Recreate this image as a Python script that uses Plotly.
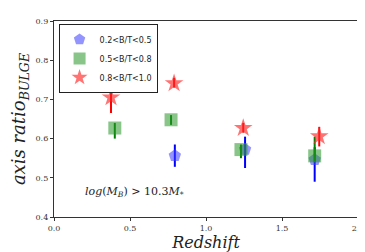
import plotly.graph_objects as go

# Data
blue_x = [0.795, 1.257, 1.715]
blue_y = [0.556, 0.572, 0.546]
blue_err_plus = [0.029, 0.033, 0.032]
blue_err_minus = [0.028, 0.047, 0.056]

green_x = [0.40, 0.77, 1.23, 1.715]
green_y = [0.627, 0.648, 0.572, 0.556]
green_err_plus = [0.013, 0.012, 0.013, 0.049]
green_err_minus = [0.027, 0.013, 0.022, 0.016]

red_x = [0.375, 0.79, 1.245, 1.745]
red_y = [0.705, 0.741, 0.627, 0.606]
red_err_plus = [0.013, 0.014, 0.013, 0.024]
red_err_minus = [0.040, 0.011, 0.012, 0.026]

labels = ["0.2<B/T<0.5", "0.5<B/T<0.8", "0.8<B/T<1.0"]
x_ticks = [0.0, 0.5, 1.0, 1.5, 2.0]
x_ticktext = ["0.0", "0.5", "1.0", "1.5", "2.0"]
y_ticks = [0.4, 0.5, 0.6, 0.7, 0.8, 0.9]
y_ticktext = ["0.4", "0.5", "0.6", "0.7", "0.8", "0.9"]

fig = go.Figure()

def add_series(x, y, ep, em, name, symbol, color, ecolor, size):
    fig.add_trace(go.Scatter(
        x=x, y=y, mode="markers", name=name,
        marker=dict(symbol=symbol, color=color, size=size, line=dict(width=0)),
        error_y=dict(type="data", symmetric=False, array=ep, arrayminus=em,
                     color=ecolor, thickness=2, width=0),
    ))

add_series(blue_x, blue_y, blue_err_plus, blue_err_minus, labels[0], "pentagon",
           "rgba(60,60,255,0.55)", "blue", 13)
add_series(green_x, green_y, green_err_plus, green_err_minus, labels[1], "square",
           "rgba(40,150,40,0.55)", "green", 13)
add_series(red_x, red_y, red_err_plus, red_err_minus, labels[2], "star",
           "rgba(255,40,40,0.65)", "red", 14)

serif = "DejaVu Serif"
fig.add_annotation(x=0.19, y=0.465, xanchor="left", yanchor="middle",
                   text="<i>log</i>(<i>M</i><sub><i>B</i></sub>) > 10.3<i>M</i><sub>*</sub>",
                   showarrow=False, font=dict(family=serif, size=11, color="#222"))

axis_common = dict(showline=True, linecolor="#333", linewidth=1.3, mirror=True,
                   ticks="outside", ticklen=3, tickcolor="#333", showgrid=False,
                   zeroline=False, tickfont=dict(family=serif, size=8, color="#333"))

fig.update_xaxes(range=[0, 2.0], tickvals=x_ticks, ticktext=x_ticktext,
                 title=dict(text="<i>Redshift</i>", font=dict(family=serif, size=16, color="#222"), standoff=2),
                 **axis_common)
fig.update_yaxes(range=[0.4, 0.9], tickvals=y_ticks, ticktext=y_ticktext,
                 title=dict(text="<i>axis ratio</i><sub><i>BULGE</i></sub>", font=dict(family=serif, size=18, color="#222"), standoff=6),
                 **axis_common)

fig.update_layout(
    width=365, height=252,
    margin=dict(l=45, r=13, t=9, b=43),
    plot_bgcolor="white", paper_bgcolor="white",
    legend=dict(x=0.015, y=0.985, xanchor="left", yanchor="top",
                bordercolor="#222", borderwidth=1, bgcolor="white",
                font=dict(family="DejaVu Sans", size=8, color="#222"),
                itemwidth=30, itemsizing="constant", tracegroupgap=0),
)

fig.write_html("out.html")
